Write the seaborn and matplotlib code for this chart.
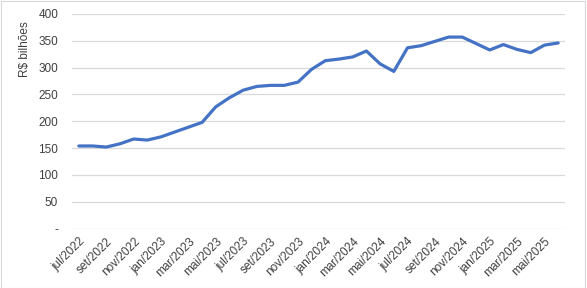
import matplotlib
matplotlib.use("Agg")
import matplotlib.pyplot as plt
import seaborn as sns
import pandas as pd
from matplotlib.patches import Rectangle

months = ["jan", "fev", "mar", "abr", "mai", "jun", "jul", "ago", "set", "out", "nov", "dez"]
periods = []
for k in range(36):
    m = (6 + k) % 12
    y = 2022 + (6 + k) // 12
    periods.append(f"{months[m]}/{y}")

values = [154, 154, 152, 158, 167, 165, 171, 180, 189, 198,
          227, 244, 258, 265, 267, 267, 273, 297, 313, 316,
          320, 331, 307, 293, 337, 341, 349, 357, 357, 345,
          333, 343, 334, 328, 342, 346]

yticks = [0, 50, 100, 150, 200, 250, 300, 350, 400]
ytick_labels = ["-", "50", "100", "150", "200", "250", "300", "350", "400"]

df = pd.DataFrame({"idx": range(len(periods)), "period": periods, "value": values})

sns.set_theme(style="white")
plt.rcParams["font.family"] = ["Liberation Sans", "DejaVu Sans"]

fig = plt.figure(figsize=(5.87, 2.88), dpi=100)
ax = fig.add_axes([72/587, 1-228.6/288, (565-72)/587, (228.6-14)/288])

sns.lineplot(data=df, x="idx", y="value", ax=ax, color="#4472C4", linewidth=2.3)

ax.set_xlim(-0.5, len(periods) - 0.5)
ax.set_ylim(0, 400)
ax.set_yticks(yticks)
ax.set_yticklabels(ytick_labels, fontsize=8.5, color="#404040")
tick_idx = list(range(0, len(periods), 2))
ax.set_xticks(tick_idx)
ax.set_xticklabels([periods[i] for i in tick_idx], rotation=45, ha="right",
                   rotation_mode="anchor", fontsize=8.5, color="#404040")
ax.tick_params(axis="y", length=0, pad=10)
ax.tick_params(axis="x", length=0, pad=5)
ax.set_xlabel("")
ax.set_ylabel("R$ bilhões", fontsize=8.5, color="#404040")
ax.yaxis.set_label_coords(-0.083, 0.837)
ax.yaxis.grid(True, color="#d9d9d9", linewidth=0.9)
ax.xaxis.grid(False)
for s in ax.spines.values():
    s.set_visible(False)
ax.set_facecolor("white")

fig.patches.append(Rectangle((0.001, 0.001), 0.996, 0.996, transform=fig.transFigure,
                             fill=False, edgecolor="#d9d9d9", linewidth=0.8))

fig.savefig("out.png", dpi=100)
